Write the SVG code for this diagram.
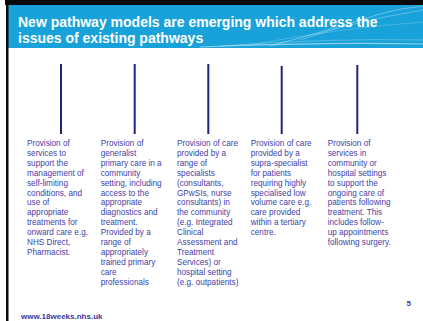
<svg xmlns="http://www.w3.org/2000/svg" width="423" height="321" viewBox="0 0 423 321">
<style>
.t{font-family:"Liberation Sans",Arial,sans-serif;font-size:8.2px;fill:#4242a6}
.h{font-family:"Liberation Sans",Arial,sans-serif;font-size:14px;font-weight:bold;fill:#ffffff}
.f{font-family:"Liberation Sans",Arial,sans-serif;font-size:8px;font-weight:bold;fill:#3a3a9c}
.v{stroke:#1f237a;stroke-width:2}
.sw{fill:none;stroke:#ffffff;stroke-linecap:round}
</style>
<rect x="0" y="0" width="423" height="321" fill="#ffffff"/>
<g id="header">
<rect x="5" y="0" width="418" height="5" fill="#0a0a0a"/>
<rect x="8" y="5" width="415" height="43" fill="#18a2d9"/>
<path class="sw" d="M200 47 Q320 42 423 44" stroke-opacity="0.5" stroke-width="1.2"/>
<path class="sw" d="M220 46 Q330 38 423 40" stroke-opacity="0.25" stroke-width="1"/>
<path class="sw" d="M270 46 Q330 30 380 14 Q400 8 423 6" stroke-opacity="0.35" stroke-width="1"/>
<path class="sw" d="M300 40 Q350 22 423 10" stroke-opacity="0.3" stroke-width="1"/>
<path class="sw" d="M250 45 Q340 28 423 22" stroke-opacity="0.2" stroke-width="1"/>
<text class="h" x="18" y="27">New pathway models are emerging which address the</text>
<text class="h" x="18" y="43">issues of existing pathways</text>
</g>
<rect x="6" y="0" width="2.5" height="321" fill="#0a0a0a"/>
<g id="connectors">
<line class="v" x1="61" y1="64" x2="61" y2="134"/>
<line class="v" x1="134.7" y1="64" x2="134.7" y2="134"/>
<line class="v" x1="208.3" y1="64" x2="208.3" y2="134"/>
<line class="v" x1="281.7" y1="66" x2="281.7" y2="134"/>
<line class="v" x1="357.3" y1="65" x2="357.3" y2="134"/>
</g>
<g id="col1">
<text class="t" x="27" y="146">
<tspan x="27" dy="0">Provision of</tspan><tspan x="27" dy="9.9">services to</tspan><tspan x="27" dy="9.9">support the</tspan><tspan x="27" dy="9.9">management of</tspan><tspan x="27" dy="9.9">self-limiting</tspan><tspan x="27" dy="9.9">conditions, and</tspan><tspan x="27" dy="9.9">use of</tspan><tspan x="27" dy="9.9">appropriate</tspan><tspan x="27" dy="9.9">treatments for</tspan><tspan x="27" dy="9.9">onward care e.g.</tspan><tspan x="27" dy="9.9">NHS Direct,</tspan><tspan x="27" dy="9.9">Pharmacist.</tspan>
</text>
</g>
<g id="col2">
<text class="t" x="100.7" y="146">
<tspan x="100.7" dy="0">Provision of</tspan><tspan x="100.7" dy="9.9">generalist</tspan><tspan x="100.7" dy="9.9">primary care in a</tspan><tspan x="100.7" dy="9.9">community</tspan><tspan x="100.7" dy="9.9">setting, including</tspan><tspan x="100.7" dy="9.9">access to the</tspan><tspan x="100.7" dy="9.9">appropriate</tspan><tspan x="100.7" dy="9.9">diagnostics and</tspan><tspan x="100.7" dy="9.9">treatment.</tspan><tspan x="100.7" dy="9.9">Provided by a</tspan><tspan x="100.7" dy="9.9">range of</tspan><tspan x="100.7" dy="9.9">appropriately</tspan><tspan x="100.7" dy="9.9">trained primary</tspan><tspan x="100.7" dy="9.9">care</tspan><tspan x="100.7" dy="9.9">professionals</tspan>
</text>
</g>
<g id="col3">
<text class="t" x="177" y="146">
<tspan x="177" dy="0">Provision of care</tspan><tspan x="177" dy="9.9">provided by a</tspan><tspan x="177" dy="9.9">range of</tspan><tspan x="177" dy="9.9">specialists</tspan><tspan x="177" dy="9.9">(consultants,</tspan><tspan x="177" dy="9.9">GPwSIs, nurse</tspan><tspan x="177" dy="9.9">consultants) in</tspan><tspan x="177" dy="9.9">the community</tspan><tspan x="177" dy="9.9">(e.g. Integrated</tspan><tspan x="177" dy="9.9">Clinical</tspan><tspan x="177" dy="9.9">Assessment and</tspan><tspan x="177" dy="9.9">Treatment</tspan><tspan x="177" dy="9.9">Services) or</tspan><tspan x="177" dy="9.9">hospital setting</tspan><tspan x="177" dy="9.9">(e.g. outpatients)</tspan>
</text>
</g>
<g id="col4">
<text class="t" x="250.7" y="146">
<tspan x="250.7" dy="0">Provision of care</tspan><tspan x="250.7" dy="9.9">provided by a</tspan><tspan x="250.7" dy="9.9">supra-specialist</tspan><tspan x="250.7" dy="9.9">for patients</tspan><tspan x="250.7" dy="9.9">requiring highly</tspan><tspan x="250.7" dy="9.9">specialised low</tspan><tspan x="250.7" dy="9.9">volume care e.g.</tspan><tspan x="250.7" dy="9.9">care provided</tspan><tspan x="250.7" dy="9.9">within a tertiary</tspan><tspan x="250.7" dy="9.9">centre.</tspan>
</text>
</g>
<g id="col5">
<text class="t" x="327.7" y="146">
<tspan x="327.7" dy="0">Provision of</tspan><tspan x="327.7" dy="9.9">services in</tspan><tspan x="327.7" dy="9.9">community or</tspan><tspan x="327.7" dy="9.9">hospital settings</tspan><tspan x="327.7" dy="9.9">to support the</tspan><tspan x="327.7" dy="9.9">ongoing care of</tspan><tspan x="327.7" dy="9.9">patients following</tspan><tspan x="327.7" dy="9.9">treatment. This</tspan><tspan x="327.7" dy="9.9">includes follow-</tspan><tspan x="327.7" dy="9.9">up appointments</tspan><tspan x="327.7" dy="9.9">following surgery.</tspan>
</text>
</g>
<g id="footer">
<text class="f" x="21" y="318.5">www.18weeks.nhs.uk</text>
<text class="f" x="406.5" y="306">5</text>
</g>
</svg>
